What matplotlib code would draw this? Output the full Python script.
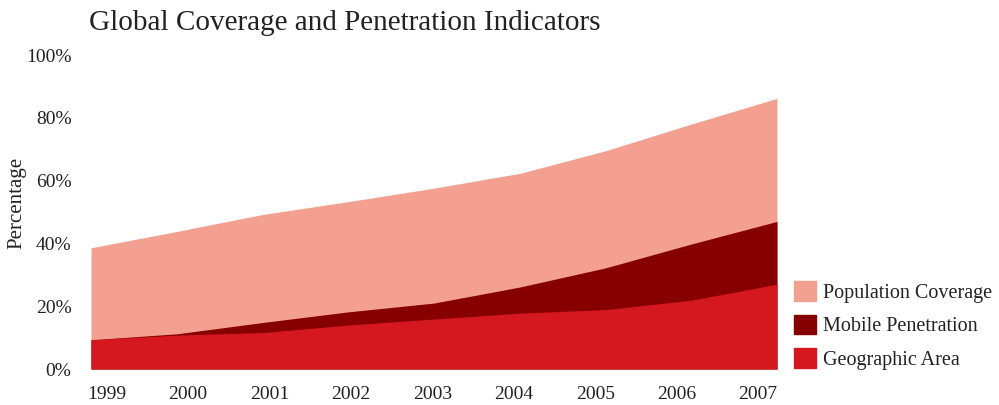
import numpy as np
import matplotlib
matplotlib.use("Agg")
import matplotlib.pyplot as plt
from matplotlib.patches import Patch

# Data (in percent)
years = ["1999", "2000", "2001", "2002", "2003", "2004", "2005", "2006", "2007"]
population_coverage = [38.6, 43.8, 49.2, 53.3, 57.6, 62.3, 69.5, 78.0, 86.2]
mobile_penetration = [9.3, 11.2, 14.8, 18.2, 21.0, 26.1, 32.2, 39.8, 47.0]
geographic_area = [9.3, 10.8, 11.6, 14.0, 15.9, 17.8, 18.9, 21.9, 27.0]

COLORS = {
    "Population Coverage": "#F4A090",
    "Mobile Penetration": "#870000",
    "Geographic Area": "#D5181F",
}

plt.rcParams["font.family"] = ["Liberation Serif", "DejaVu Serif"]
TEXT = "#222222"

fig = plt.figure(figsize=(9.99, 4.05), dpi=100)
ax = fig.add_axes([91 / 999, 36 / 405, 686 / 999, 314 / 405])

x = np.arange(len(years))
ax.fill_between(x, 0, population_coverage, color=COLORS["Population Coverage"], lw=0)
ax.fill_between(x, 0, mobile_penetration, color=COLORS["Mobile Penetration"], lw=0)
ax.fill_between(x, 0, geographic_area, color=COLORS["Geographic Area"], lw=0)

ax.set_xlim(0, len(years) - 1)
ax.set_ylim(0, 100)

# year labels sit slightly inside the area, as in the original
ax.set_xticks(np.linspace(0.18, 7.78, len(years)))
ax.set_xticklabels(years)
ax.set_yticks([0, 20, 40, 60, 80, 100])
ax.set_yticklabels([f"{v}%" for v in [0, 20, 40, 60, 80, 100]])
ax.tick_params(axis="both", length=0, labelsize=14, colors=TEXT)
ax.tick_params(axis="x", pad=12)
ax.tick_params(axis="y", pad=14)
for s in ax.spines.values():
    s.set_visible(False)

ax.set_ylabel("Percentage", fontsize=15, color=TEXT)
ax.yaxis.set_label_coords(-0.094, 0.53)

fig.text(89 / 999, 1 - 23 / 405, "Global Coverage and Penetration Indicators",
         fontsize=21, color=TEXT, va="center", ha="left")

handles = [Patch(color=c, label=k) for k, c in COLORS.items()]
fig.legend(handles=handles, loc="lower left", bbox_to_anchor=(786 / 999, 27 / 405),
           frameon=False, fontsize=14.5, handlelength=1.1, handleheight=1.1,
           handletextpad=0.35, labelspacing=0.6, labelcolor=TEXT, borderaxespad=0)

fig.savefig("out.png", dpi=100)
